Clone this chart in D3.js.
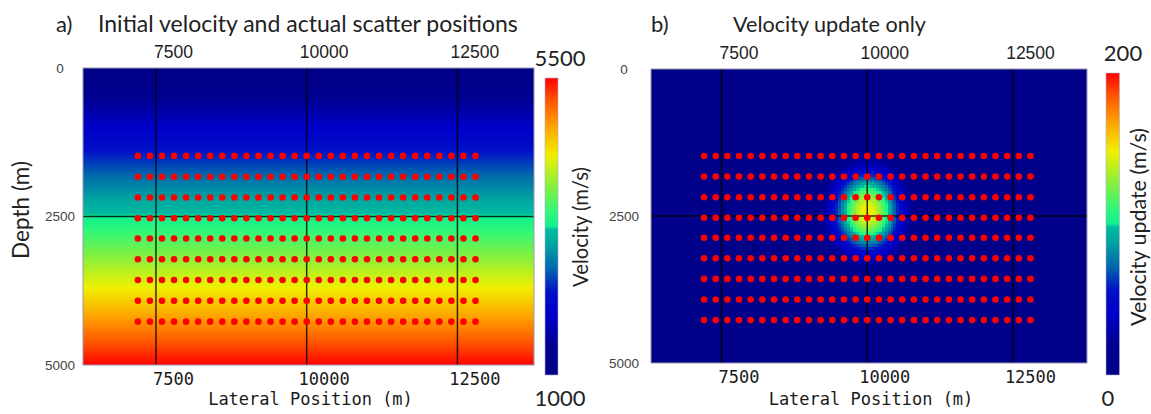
<!DOCTYPE html>
<html>
<head>
<meta charset="utf-8">
<script src="https://cdn.jsdelivr.net/npm/d3@7/dist/d3.min.js"></script>
<style>
  body { margin: 0; background: #fff; }
</style>
</head>
<body>
<div id="chart"></div>
<script>
// ---- data ----
var lateralTicks = [7500, 10000, 12500];
var depthTicks = [0, 2500, 5000];
var lateralDomain = [6290, 13770];
var depthDomain = [0, 5000];

// scatter point positions (m)
var scatterX = [7200, 7400, 7600, 7800, 8000, 8200, 8400, 8600, 8800, 9000,
                9200, 9400, 9600, 9800, 10000, 10200, 10400, 10600, 10800, 11000,
                11200, 11400, 11600, 11800, 12000, 12200, 12400, 12600, 12800];
var scatterZ = [1480, 1830, 2180, 2530, 2870, 3220, 3570, 3920, 4270];

// initial velocity model: velocity nodes vs depth
var velDepth = [0, 5000];
var velValue = [1000, 5500];
var velRange = [1000, 5500];

// velocity update: one smooth anomaly
var updateRange = [0, 200];
var anomalyX = 10000, anomalyZ = 2430;
var anomalyPeak = 150;
var anomalySigmaX = 390, anomalySigmaZ = 470;

// ---- colour map (rainbow, fraction 0..1) ----
var cmapT =   [0, 0.10, 0.20, 0.28, 0.36, 0.44, 0.49, 0.50, 0.55, 0.63, 0.74, 0.84, 0.93, 1];
var cmapCol = ["#000088", "#000090", "#0000c8", "#0010c8", "#0068ac", "#00a4a0", "#00bca0",
               "#10f090", "#30f878", "#80f040", "#f0f000", "#ffa000", "#ff5000", "#ff0000"];
var cmap = d3.scaleLinear().domain(cmapT).range(cmapCol).clamp(true);

var SANS = "Lato, 'Open Sans', sans-serif";
var ARIAL = "'Liberation Sans', Arial, sans-serif";
var MONO = "'DejaVu Sans Mono', monospace";

var width = 1151, height = 414;
var svg = d3.select("#chart").append("svg").attr("width", width).attr("height", height)
    .style("font-family", SANS);
var defs = svg.append("defs");

var gradId = "cbgrad";
var grad = defs.append("linearGradient").attr("id", gradId)
    .attr("x1", 0).attr("y1", 1).attr("x2", 0).attr("y2", 0);
grad.selectAll("stop").data(cmapT).enter().append("stop")
    .attr("offset", function(d){ return d; })
    .attr("stop-color", function(d, i){ return cmapCol[i]; });

function fitText(sel, target) {
    var w = sel.node().getComputedTextLength();
    var fs = parseFloat(sel.style("font-size"));
    sel.style("font-size", (fs * target / w) + "px");
}

var panels = [
  { key: "a", left: 83, right: 534, top: 68, bottom: 365,
    letterX: 56, titleX: 98, titleW: 420, title: "Initial velocity and actual scatter positions",
    cbX: 545, cbW: 13, cbTop: 78, cbBottom: 375, cbMax: "5500", cbMin: "1000",
    cbMaxX: 560, cbMinX: 560, cbLabel: "Velocity (m/s)", cbLabelX: 580, cbLabelW: 120,
    leftLabX: 60, range: velRange },
  { key: "b", left: 651, right: 1087, top: 69, bottom: 363,
    letterX: 651, titleX: 733, titleW: 193, title: "Velocity update only",
    cbX: 1106, cbW: 13.5, cbTop: 73, cbBottom: 375, cbMax: "200", cbMin: "0",
    cbMaxX: 1123, cbMinX: 1108, cbLabel: "Velocity update (m/s)", cbLabelX: 1138, cbLabelW: 198,
    leftLabX: 624, range: updateRange }
];

panels.forEach(function(p) {
    var x = d3.scaleLinear().domain(lateralDomain).range([p.left, p.right]);
    var y = d3.scaleLinear().domain(depthDomain).range([p.top, p.bottom]);
    var c = d3.scaleLinear().domain(p.range).range([0, 1]);
    var g = svg.append("g");

    var clipId = "clip" + p.key;
    defs.append("clipPath").attr("id", clipId).append("rect")
        .attr("x", p.left).attr("y", p.top).attr("width", p.right - p.left).attr("height", p.bottom - p.top);
    var field = g.append("g").attr("clip-path", "url(#" + clipId + ")").attr("shape-rendering", "crispEdges");

    if (p.key == "a") {
        var v = d3.scaleLinear().domain(velDepth).range(velValue);
        var bands = d3.range(depthDomain[0], depthDomain[1], 25);
        field.selectAll("rect").data(bands).enter().append("rect")
            .attr("x", p.left).attr("width", p.right - p.left)
            .attr("y", function(d){ return y(d); })
            .attr("height", function(d){ return y(d + 25) - y(d) + 0.6; })
            .attr("fill", function(d){ return cmap(c(v(d + 12.5))); });
    } else {
        field.append("rect").attr("x", p.left).attr("y", p.top)
            .attr("width", p.right - p.left).attr("height", p.bottom - p.top)
            .attr("fill", cmap(0));
        var cell = 50, cells = [];
        d3.range(anomalyX - 1500, anomalyX + 1500, cell).forEach(function(cx) {
            d3.range(anomalyZ - 1800, anomalyZ + 1800, cell).forEach(function(cz) {
                var dx = (cx + cell / 2 - anomalyX) / anomalySigmaX;
                var dz = (cz + cell / 2 - anomalyZ) / anomalySigmaZ;
                var val = anomalyPeak * Math.exp(-0.5 * (dx * dx + dz * dz));
                if (val > 1) cells.push({ x: cx, z: cz, v: val });
            });
        });
        field.selectAll("rect.cell").data(cells).enter().append("rect").attr("class", "cell")
            .attr("x", function(d){ return x(d.x); })
            .attr("y", function(d){ return y(d.z); })
            .attr("width", x(cell) - x(0) + 0.5)
            .attr("height", y(cell) - y(0) + 0.5)
            .attr("fill", function(d){ return cmap(c(d.v)); });
    }

    // grid lines
    g.selectAll("line.vg").data(lateralTicks).enter().append("line").attr("class", "vg")
        .attr("x1", function(d){ return x(d); }).attr("x2", function(d){ return x(d); })
        .attr("y1", p.top).attr("y2", p.bottom)
        .attr("stroke", "#000").attr("stroke-opacity", 0.8).attr("stroke-width", 1.5);
    g.selectAll("line.hg").data(depthTicks.slice(1, -1)).enter().append("line").attr("class", "hg")
        .attr("y1", function(d){ return y(d); }).attr("y2", function(d){ return y(d); })
        .attr("x1", p.left).attr("x2", p.right)
        .attr("stroke", "#000").attr("stroke-opacity", 0.8).attr("stroke-width", 1.5);

    g.append("rect").attr("x", p.left).attr("y", p.top)
        .attr("width", p.right - p.left).attr("height", p.bottom - p.top)
        .attr("fill", "none").attr("stroke", "#9a9ab0").attr("stroke-width", 1);

    // scatter points
    var pts = [];
    scatterZ.forEach(function(z){ scatterX.forEach(function(xx){ pts.push([xx, z]); }); });
    g.selectAll("circle").data(pts).enter().append("circle")
        .attr("cx", function(d){ return x(d[0]); })
        .attr("cy", function(d){ return y(d[1]); })
        .attr("r", 3.3).attr("fill", "#ff0000");

    // top axis
    var top = g.append("g").attr("transform", "translate(0," + (p.top - 7) + ")")
        .call(d3.axisTop(x).tickValues(lateralTicks).tickSize(0).tickFormat(function(d){ return d; }));
    top.select(".domain").remove();
    top.attr("font-family", null).attr("font-size", null);
    top.selectAll("text").attr("dx", 17).style("font-family", ARIAL)
        .style("font-size", "17.5px").attr("fill", "#222");

    // bottom axis
    var bot = g.append("g").attr("transform", "translate(0," + (p.bottom + 5) + ")")
        .call(d3.axisBottom(x).tickValues(lateralTicks).tickSize(0).tickFormat(function(d){ return d; }));
    bot.select(".domain").remove();
    bot.attr("font-family", null).attr("font-size", null);
    bot.selectAll("text").attr("dx", 17).style("font-family", MONO)
        .style("font-size", "17px").attr("fill", "#1a1a1a");

    // left axis
    var lft = g.append("g").attr("transform", "translate(" + p.leftLabX + ",0)")
        .call(d3.axisLeft(y).tickValues(depthTicks).tickSize(0).tickFormat(function(d){ return d; }));
    lft.select(".domain").remove();
    lft.attr("font-family", null).attr("font-size", null);
    lft.selectAll("text").attr("x", 0).attr("text-anchor", "middle")
        .style("font-family", ARIAL).style("font-size", "13.5px").attr("fill", "#444");

    // x label
    g.append("text").attr("x", (p.left + p.right) / 2 + 2).attr("y", 405)
        .attr("text-anchor", "middle").style("font-family", MONO)
        .style("font-size", "17px").attr("fill", "#1a1a1a").text("Lateral Position (m)");

    // title
    g.append("text").attr("x", p.letterX).attr("y", 32).style("font-size", "22px").attr("fill", "#222")
        .text(p.key + ")");
    var t = g.append("text").attr("x", p.titleX).attr("y", 32).style("font-size", "22px")
        .attr("fill", "#222").text(p.title);
    fitText(t, p.titleW);

    // colour bar
    g.append("rect").attr("x", p.cbX).attr("y", p.cbTop).attr("width", p.cbW)
        .attr("height", p.cbBottom - p.cbTop).attr("fill", "url(#" + gradId + ")")
        .attr("stroke", "#b0b0d0").attr("stroke-width", 0.6);
    g.append("text").attr("x", p.cbMaxX).attr("y", p.cbTop - 12).attr("text-anchor", "middle")
        .style("font-size", "22px").attr("fill", "#222").text(p.cbMax);
    g.append("text").attr("x", p.cbMinX).attr("y", p.cbBottom + 31).attr("text-anchor", "middle")
        .style("font-size", "22px").attr("fill", "#222").text(p.cbMin);
    var cl = g.append("text").attr("transform", "translate(" + p.cbLabelX + ",227) rotate(-90)")
        .attr("text-anchor", "middle").attr("dominant-baseline", "central")
        .style("font-size", "18px").attr("fill", "#222").text(p.cbLabel);
    fitText(cl, p.cbLabelW);
});

var dl = svg.append("text").attr("transform", "translate(20,210) rotate(-90)")
    .attr("text-anchor", "middle").attr("dominant-baseline", "central")
    .style("font-size", "18px").attr("fill", "#222").text("Depth (m)");
fitText(dl, 98);
</script>
</body>
</html>
